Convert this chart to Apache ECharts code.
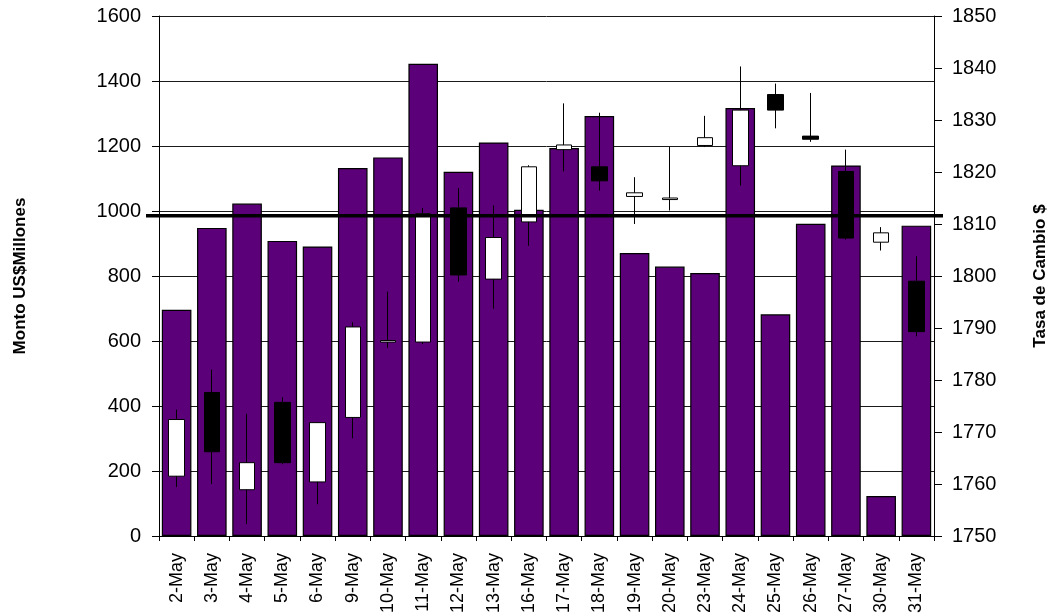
<!DOCTYPE html>
<html>
<head>
<meta charset="utf-8">
<script src="https://cdn.jsdelivr.net/npm/echarts@6/dist/echarts.min.js"></script>
<style>
html,body{margin:0;padding:0;background:#fff;}
#chart{width:1052px;height:615px;}
</style>
</head>
<body>
<div id="chart"></div>
<script>
var categories = ['2-May','3-May','4-May','5-May','6-May','9-May','10-May','11-May','12-May','13-May','16-May','17-May','18-May','19-May','20-May','23-May','24-May','25-May','26-May','27-May','30-May','31-May'];
var montos = [696, 948, 1023, 908, 891, 1132, 1165, 1453, 1121, 1211, 1004, 1194, 1292, 871, 829, 809, 1317, 682, 961, 1140, 123, 955];
var tcOpen  = [1761.5, 1777.6, 1758.9, 1775.7, 1760.4, 1772.8, 1787.3, 1787.3, 1813.1, 1799.4, 1810.4, 1824.3, 1821.0, 1815.3, 1814.7, 1825.1, 1821.2, 1834.9, 1826.9, 1820.1, 1806.5, 1799.0];
var tcClose = [1772.4, 1766.2, 1764.1, 1764.1, 1771.8, 1790.2, 1787.6, 1812.0, 1800.2, 1807.4, 1821.0, 1825.2, 1818.3, 1816.0, 1815.0, 1826.6, 1831.9, 1831.9, 1826.3, 1807.3, 1808.3, 1789.3];
var tcLow   = [1759.4, 1760.0, 1752.3, 1763.8, 1756.1, 1768.8, 1786.2, 1786.9, 1798.9, 1793.7, 1805.8, 1820.1, 1816.4, 1810.0, 1812.6, 1824.8, 1817.4, 1828.4, 1825.8, 1807.0, 1804.9, 1788.4];
var tcHigh  = [1774.3, 1782.0, 1773.5, 1776.7, 1771.9, 1791.1, 1797.0, 1813.1, 1816.9, 1813.6, 1821.3, 1833.2, 1831.4, 1819.0, 1824.8, 1830.8, 1840.3, 1837.0, 1835.2, 1824.3, 1809.4, 1803.8];
var refLevel = 1811.6;
var leftTicks = {min: 0, max: 1600, interval: 200};
var rightTicks = {min: 1750, max: 1850, interval: 10};

var candleData = categories.map(function(c, i){ return [tcOpen[i], tcClose[i], tcLow[i], tcHigh[i]]; });

var FONT = "'Liberation Sans', Arial, sans-serif";
function plain(v){ return String(v); }
var chart = echarts.init(document.getElementById('chart'));
chart.setOption({
  animation: false,
  backgroundColor: '#ffffff',
  grid: [
    {left: 159, right: 118, top: 16, bottom: 79, containLabel: false, outerBoundsMode: 'none'},
    {left: 146, right: 109, top: 16, bottom: 79, containLabel: false, outerBoundsMode: 'none'}
  ],
  xAxis: [
    {
      type: 'category', gridIndex: 0, data: categories,
      axisLine: {lineStyle: {color: '#000', width: 1}},
      axisTick: {show: true, length: 5, lineStyle: {color: '#000'}},
      axisLabel: {rotate: 90, interval: 0, margin: 17, color: '#000', fontSize: 18, fontFamily: FONT}
    },
    {type: 'value', gridIndex: 1, min: 0, max: 1, show: false}
  ],
  yAxis: [
    {
      type: 'value', gridIndex: 0, min: leftTicks.min, max: leftTicks.max, interval: leftTicks.interval,
      position: 'left',
      name: 'Monto US$Millones', nameLocation: 'middle', nameRotate: 90, nameGap: 130,
      nameTextStyle: {color: '#000', fontSize: 17, fontWeight: 'bold', fontFamily: FONT},
      axisLine: {show: true, lineStyle: {color: '#000', width: 1}},
      axisTick: {show: true, length: 7, lineStyle: {color: '#000'}},
      axisLabel: {color: '#000', fontSize: 20, margin: 18, fontFamily: FONT, formatter: plain},
      splitLine: {show: true, lineStyle: {color: '#1a1a1a', width: 1}}
    },
    {
      type: 'value', gridIndex: 0, min: rightTicks.min, max: rightTicks.max, interval: rightTicks.interval,
      position: 'right',
      name: 'Tasa de Cambio $', nameLocation: 'middle', nameRotate: 90, nameGap: 98,
      nameTextStyle: {color: '#000', fontSize: 17, fontWeight: 'bold', fontFamily: FONT},
      axisLine: {show: true, lineStyle: {color: '#000', width: 1}},
      axisTick: {show: true, length: 8, lineStyle: {color: '#000'}},
      axisLabel: {color: '#000', fontSize: 20, margin: 18, fontFamily: FONT, formatter: plain},
      splitLine: {show: false}
    },
    {type: 'value', gridIndex: 1, min: rightTicks.min, max: rightTicks.max, show: false}
  ],
  series: [
    {
      name: 'Monto', type: 'bar', xAxisIndex: 0, yAxisIndex: 0, data: montos,
      barCategoryGap: '16%',
      itemStyle: {color: '#5c007a', borderColor: '#000', borderWidth: 1.2},
      z: 2
    },
    {
      name: 'Tasa', type: 'candlestick', xAxisIndex: 0, yAxisIndex: 1, data: candleData,
      barWidth: 16,
      itemStyle: {color: '#ffffff', color0: '#000000', borderColor: '#000000', borderColor0: '#000000', borderWidth: 1},
      z: 3
    },
    {
      name: 'Nivel', type: 'line', xAxisIndex: 1, yAxisIndex: 2,
      data: [[0, refLevel], [1, refLevel]],
      symbol: 'none', silent: true,
      lineStyle: {color: '#000', width: 3.5},
      z: 5
    }
  ]
});
</script>
</body>
</html>
